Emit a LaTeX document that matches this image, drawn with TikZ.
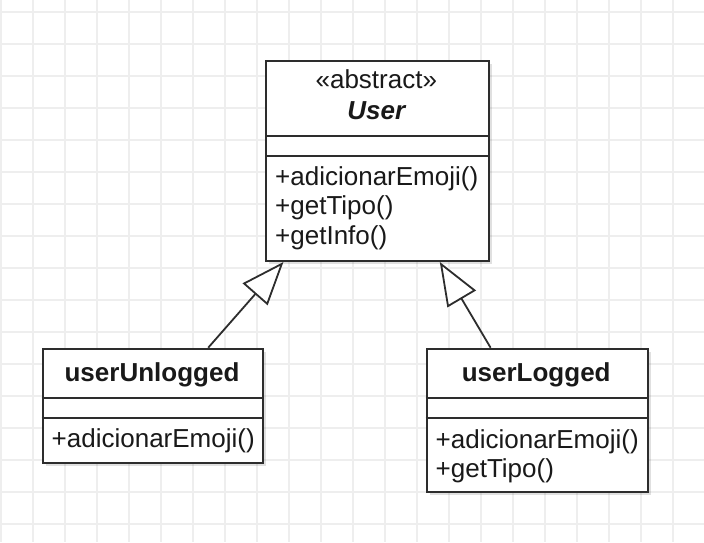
\documentclass[tikz,border=0pt]{standalone}
\usepackage{fontspec}
\setmainfont{Liberation Sans}
\usetikzlibrary{arrows.meta,calc,shadows}
\definecolor{gridc}{RGB}{238,238,238}
\definecolor{linec}{RGB}{45,45,45}
\definecolor{txtc}{RGB}{25,25,25}
\begin{document}
\begin{tikzpicture}[x=1pt,y=-1pt,
  gridl/.style={draw=gridc, line width=2pt},
  classbox/.style={draw=linec, line width=2pt, fill=white, inner sep=0pt,
    anchor=north west, rectangle,
    drop shadow={shadow xshift=3pt, shadow yshift=-3pt, fill=black, opacity=0.12}},
  sepline/.style={draw=linec, line width=2pt},
  txt/.style={inner sep=0pt, text=txtc, font=\fontsize{26}{29.7}\selectfont},
  inh/.style={draw=linec, line width=1.8pt,
    -{Triangle[open, length=43pt, width=33pt, fill=white]}}]
\useasboundingbox (0,0) rectangle (704,542);
\fill[white] (0,0) rectangle (704,542);
% grid
\foreach \i in {0,...,22} \draw[gridl] ({0.5+32*\i},0) -- ({0.5+32*\i},542);
\foreach \j in {0,...,16} \draw[gridl] (0,{12.3+32*\j}) -- (704,{12.3+32*\j});

% User
\node[classbox, minimum width=222.7pt, minimum height=200pt] (user) at (265,60) {};
\draw[sepline] ($(user.north west)+(0,76)$) -- ($(user.north east)+(0,76)$);
\draw[sepline] ($(user.north west)+(0,96)$) -- ($(user.north east)+(0,96)$);
\node[txt, anchor=base] (ustereo) at (376.3,88.5) {«abstract»};
\node[txt, anchor=base, font=\fontsize{26}{29.7}\selectfont\bfseries\itshape] (uname) at (376.3,119) {User};
\node[txt, anchor=base west] (um1) at (275,185) {+adicionarEmoji()};
\node[txt, anchor=base west] (um2) at (275,214.7) {+getTipo()};
\node[txt, anchor=base west] (um3) at (275,244.4) {+getInfo()};

% userUnlogged
\node[classbox, minimum width=220.6pt, minimum height=114pt] (uu) at (41.7,347.7) {};
\draw[sepline] ($(uu.north west)+(0,50)$) -- ($(uu.north east)+(0,50)$);
\draw[sepline] ($(uu.north west)+(0,70)$) -- ($(uu.north east)+(0,70)$);
\node[txt, anchor=base, font=\fontsize{26}{29.7}\selectfont\bfseries] (uuname) at (152,381) {userUnlogged};
\node[txt, anchor=base west] (uum1) at (51.5,447) {+adicionarEmoji()};

% userLogged
\node[classbox, minimum width=221pt, minimum height=143.3pt] (ul) at (425.7,347.7) {};
\draw[sepline] ($(ul.north west)+(0,50)$) -- ($(ul.north east)+(0,50)$);
\draw[sepline] ($(ul.north west)+(0,70)$) -- ($(ul.north east)+(0,70)$);
\node[txt, anchor=base, font=\fontsize{26}{29.7}\selectfont\bfseries] (ulname) at (536.2,381) {userLogged};
\node[txt, anchor=base west] (ulm1) at (435.5,448) {+adicionarEmoji()};
\node[txt, anchor=base west] (ulm2) at (435.5,477.2) {+getTipo()};

% inheritance
\draw[inh] ($(uu.north west)!0.748!(uu.north east)$) -- ($(user.south west)!0.082!(user.south east)$);
\draw[inh] ($(ul.north west)!0.291!(ul.north east)$) -- ($(user.south west)!0.778!(user.south east)$);
\end{tikzpicture}
\end{document}
